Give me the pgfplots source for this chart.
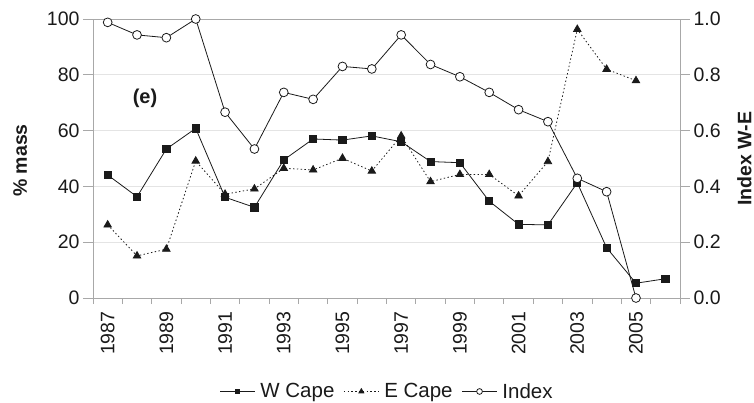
\documentclass[border=0pt]{standalone}
\usepackage{pgfplots}
\pgfplotsset{compat=1.18}
\usepackage{fontspec}
\setmainfont{Liberation Sans}
\definecolor{framegray}{HTML}{A8A8A8}
\definecolor{gridgray}{HTML}{E4E4E4}
\definecolor{ink}{HTML}{1A1A1A}
\begin{document}
\begin{tikzpicture}
\pgfplotsset{
  every axis/.append style={
    scale only axis, width=587pt, height=279pt,
    at={(0,0)}, anchor=south west,
    xmin=-0.5, xmax=19.5,
    axis line style={framegray, line width=0.9pt},
    tick style={framegray, line width=0.9pt},
    tick align=outside,
    major tick length=10pt,
    minor tick length=6pt,
    tick label style={font=\fontsize{19.5}{23}\selectfont, text=ink},
    /pgf/number format/assume math mode=true,
  },
  legend image code/.code={
    \draw[mark repeat=2,mark phase=2,#1, every mark/.append style={scale=0.65}]
      plot coordinates {(0pt,0pt) (17.5pt,0pt) (35pt,0pt)};
  },
}
\begin{axis}[
  name=main,
  ymin=0, ymax=100, ytick={0,20,...,100},
  ytick pos=left, xtick pos=bottom,
  ymajorgrids, major grid style={gridgray, line width=0.9pt},
  xtick={0,2,...,18},
  xticklabels={1987,1989,1991,1993,1995,1997,1999,2001,2003,2005},
  major x tick style={draw=none},
  minor xtick={-0.5,0.5,...,19.5},
  xticklabel style={rotate=90, anchor=east},
  legend columns=3,
  legend style={draw=none, fill=none, at={(0.501,-0.335)}, anchor=center,
    font=\fontsize{20.5}{24}\selectfont, text=ink,
    /tikz/every even column/.append style={column sep=7pt},
    /tikz/every odd column/.append style={column sep=3pt},
    cells={anchor=west}},
]
\addplot[ink, line width=0.8pt, mark=square*, mark size=3.6pt, mark options={solid, fill=ink}]
  coordinates {(0,44.1)(1,36.3)(2,53.4)(3,60.8)(4,36.1)(5,32.5)(6,49.5)(7,57.0)(8,56.6)(9,58.1)
  (10,56.0)(11,48.9)(12,48.5)(13,34.7)(14,26.4)(15,26.2)(16,41.3)(17,18.0)(18,5.3)(19,6.9)};
\addlegendentry{W Cape}
\addplot[ink, line width=0.8pt, dash pattern=on 1.4pt off 2.4pt, mark=triangle*, mark size=4.3pt, mark options={solid, fill=ink}]
  coordinates {(0,26.2)(1,15.1)(2,17.5)(3,49.1)(4,37.2)(5,39.1)(6,46.5)(7,45.9)(8,50.1)(9,45.5)
  (10,58.1)(11,41.7)(12,44.3)(13,44.3)(14,36.6)(15,48.9)(16,96.3)(17,82.0)(18,77.9)};
\addlegendentry{E Cape}
\addlegendimage{ink, line width=0.8pt, mark=*, mark size=4.4pt, mark options={solid, fill=white, draw=ink}}
\addlegendentry{Index}
\end{axis}
\begin{axis}[
  axis x line=none, axis y line*=right,
  ymin=0, ymax=1, ytick={0,0.2,...,1},
  yticklabel style={/pgf/number format/.cd, fixed, fixed zerofill, precision=1},
]
\addplot[ink, line width=0.8pt, mark=*, mark size=4.4pt, mark options={solid, fill=white, draw=ink}]
  coordinates {(0,0.988)(1,0.943)(2,0.933)(3,1.0)(4,0.666)(5,0.534)(6,0.737)(7,0.712)(8,0.830)(9,0.821)
  (10,0.943)(11,0.837)(12,0.793)(13,0.737)(14,0.675)(15,0.632)(16,0.429)(17,0.381)(18,0.0)};
\end{axis}
\node[font=\bfseries\fontsize{20}{24}\selectfont, text=ink] at ([xshift=52pt,yshift=200pt]main.south west) {(e)};
\node[rotate=90, anchor=north, inner sep=0pt, font=\bfseries\fontsize{19.5}{23}\selectfont, text=ink] at ([xshift=-80pt,yshift=-2pt]main.west) {\% mass};
\node[rotate=90, anchor=north, inner sep=0pt, font=\bfseries\fontsize{19.5}{23}\selectfont, text=ink] at ([xshift=57pt]main.east) {Index W-E};
\pgfresetboundingbox
\path[use as bounding box] (-93pt,-104pt) rectangle (661pt,298pt);
\end{tikzpicture}
\end{document}
